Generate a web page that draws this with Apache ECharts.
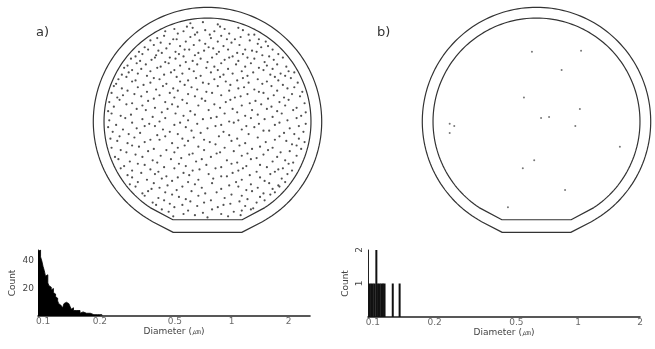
<!DOCTYPE html>
<html>
<head>
<meta charset="utf-8">
<script src="https://cdn.jsdelivr.net/npm/echarts@6/dist/echarts.min.js"></script>
<style>
  html, body { margin: 0; padding: 0; background: #fff; }
  #chart { width: 655px; height: 349px; }
</style>
</head>
<body>
<div id="chart"></div>
<script>
// particle positions on wafer a), x,y in mm from the wafer centre
const defectsA = [
  -15,86, -4,87, 9,85,
  -29,81, -18,83, -13,82, -2,80, 11,83, 15,81, 27,82,
  -37,79, -26,77, -21,79, -9,78, 2,76, 6,79, 19,77, 31,80, 36,76,
  -44,73, -38,75, -27,72, -15,74, -11,76, 3,73, 12,75, 17,72, 29,74, 41,76, 45,72,
  -50,71, -41,69, -33,68, -30,72, -19,70, -7,71, -2,68, 9,70, 21,69, 24,72, 37,71, 44,68, 51,70,
  -55,65, -47,67, -36,64, -24,66, -20,63, -12,67, 1,65, 5,64, 14,66, 28,67, 33,63, 47,65, 53,66,
  -60,61, -52,63, -43,62, -40,60, -28,61, -16,63, -8,60, -3,62, 10,61, 18,63, 26,60, 39,62, 43,61, 57,63,
  -63,57, -57,59, -45,58, -33,56, -25,59, -21,57, -11,58, 4,56, 8,59, 22,57, 31,59, 35,56, 48,58, 54,57, 62,59,
  -67,55, -59,53, -49,54, -46,56, -37,52, -28,55, -13,53, -6,55, 0,52, 15,54, 19,56, 27,53, 41,55, 50,52, 58,54, 66,56,
  -70,49, -62,51, -54,50, -41,48, -34,51, -24,49, -19,52, -9,50, 6,48, 12,51, 25,50, 33,48, 38,51, 52,49, 61,50, 69,48,
  -73,47, -66,45, -58,46, -50,44, -44,47, -29,45, -16,46, -12,44, -1,47, 9,45, 18,46, 30,44, 45,47, 49,45, 57,46, 71,44,
  -75,41, -69,43, -61,42, -53,40, -38,41, -32,43, -22,42, -6,40, 3,43, 14,41, 22,42, 35,40, 40,43, 55,41, 64,42, 68,40, 76,43,
  -78,37, -71,39, -63,36, -47,38, -42,37, -27,39, -17,36, -10,38, 6,37, 11,39, 26,36, 31,38, 44,37, 59,39, 62,36, 73,38,
  -80,33, -66,35, -56,32, -50,34, -36,33, -24,35, -20,32, -4,34, 1,33, 16,35, 20,32, 36,34, 48,33, 52,35, 66,32, 79,34,
  -82,31, -75,29, -61,30, -45,28, -39,31, -30,29, -14,30, -9,28, 9,31, 27,29, 32,30, 41,28, 56,31, 70,29, 76,30,
  -84,25, -70,27, -64,24, -53,26, -33,25, -26,27, -17,24, -1,26, 4,25, 19,27, 35,24, 45,26, 49,25, 61,27, 74,24, 83,26,
  -79,21, -74,23, -58,22, -47,20, -42,23, -29,21, -11,22, -5,20, 12,23, 24,21, 29,22, 53,20, 58,23, 67,21, 81,22,
  -86,17, -77,19, -66,16, -52,18, -37,17, -22,19, -18,16, -2,18, 16,17, 20,19, 37,16, 42,18, 63,17, 71,19, 85,16,
  -82,13, -71,15, -57,14, -46,12, -31,15, -26,13, -8,14, 6,15, 11,12, 30,14, 47,15, 56,13, 68,14, 78,12,
  -87,9, -62,11, -54,10, -40,8, -35,11, -15,9, 1,10, 22,11, 26,8, 39,10, 52,11, 61,9, 75,10, 86,8,
  -84,7, -76,5, -67,6, -48,4, -28,7, -21,5, -11,6, 8,4, 15,7, 33,5, 44,6, 57,4, 65,7, 82,5,
  -86,1, -72,3, -57,2, -42,0, -37,3, -17,1, -4,2, 3,3, 19,0, 27,1, 38,3, 50,2, 70,1, 78,3,
  -80,-3, -66,-1, -51,-2, -46,-4, -29,-3, -24,-1, -9,-2, 12,-3, 23,-1, 34,-4, 45,-2, 59,-3, 63,-1, 86,-2,
  -87,-5, -74,-7, -62,-6, -55,-4, -39,-7, -19,-5, -14,-8, 0,-6, 7,-4, 30,-7, 41,-5, 54,-8, 72,-6, 80,-4,
  -83,-9, -69,-11, -59,-10, -44,-12, -33,-9, -26,-11, -6,-10, 14,-9, 19,-12, 36,-11, 49,-8, 67,-10, 76,-11, 84,-9,
  -85,-15, -77,-13, -64,-14, -50,-16, -37,-13, -22,-15, -12,-14, -3,-16, 10,-13, 26,-15, 44,-14, 59,-16, 63,-13, 80,-15,
  -79,-17, -70,-19, -55,-18, -42,-16, -31,-19, -17,-17, 2,-18, 7,-20, 21,-17, 33,-19, 51,-18, 69,-17, 74,-20, 85,-18,
  -84,-23, -66,-21, -60,-22, -47,-24, -26,-23, -20,-21, -8,-22, 15,-23, 28,-21, 39,-24, 46,-22, 57,-23, 78,-21,
  -76,-25, -71,-27, -52,-26, -36,-25, -29,-27, -13,-28, -3,-25, 11,-27, 23,-26, 35,-28, 53,-25, 64,-27, 72,-26, 82,-24,
  -81,-31, -63,-29, -57,-31, -41,-30, -23,-32, -16,-29, 3,-31, 8,-28, 30,-30, 43,-32, 49,-29, 61,-31, 78,-30,
  -78,-33, -68,-35, -48,-34, -44,-36, -32,-33, -10,-35, -5,-33, 17,-34, 26,-36, 38,-33, 57,-35, 68,-34, 75,-36,
  -73,-39, -61,-37, -55,-38, -38,-40, -25,-37, -19,-39, -1,-38, 12,-40, 21,-37, 34,-39, 46,-38, 52,-40, 71,-37,
  -76,-41, -66,-43, -50,-42, -43,-44, -29,-41, -13,-43, -7,-42, 7,-41, 27,-43, 31,-41, 43,-44, 62,-42, 66,-41, 74,-43,
  -70,-47, -58,-45, -46,-46, -36,-48, -21,-45, -16,-47, 1,-46, 17,-48, 22,-45, 37,-47, 55,-46, 59,-44, 70,-46,
  -66,-49, -53,-51, -40,-50, -31,-52, -26,-49, -8,-51, 5,-50, 12,-48, 30,-51, 46,-49, 50,-52, 65,-50,
  -68,-55, -61,-53, -47,-54, -35,-56, -17,-53, -11,-55, 4,-54, 19,-56, 25,-53, 38,-55, 54,-54, 62,-56, 68,-53,
  -63,-57, -49,-59, -42,-58, -27,-60, -22,-57, -5,-58, 12,-59, 27,-57, 34,-60, 44,-58, 57,-59, 63,-57,
  -57,-63, -52,-61, -37,-62, -31,-64, -14,-61, -2,-63, 8,-62, 21,-64, 39,-61, 49,-63, 59,-62,
  -55,-65, -43,-67, -25,-66, -19,-68, -8,-65, 15,-67, 30,-65, 35,-68, 46,-66, 55,-64,
  -48,-71, -38,-69, -33,-72, -15,-70, -3,-71, 3,-69, 20,-72, 28,-70, 43,-71, 50,-69,
  -45,-73, -29,-75, -22,-73, -9,-74, 9,-75, 14,-73, 33,-74, 40,-76,
  -40,-77, -34,-79, -17,-78, -4,-80, 4,-77, 23,-79, 30,-78, 38,-77,
  -30,-83, -21,-81, -11,-82, 0,-84, 12,-81, 18,-83, 29,-82
];

// particle positions on wafer b)
const defectsB = [
  -4,61, 39,62, 22,45, -11,21, 38,11, 4,3, 11,4, 34,-4, -76,-2, -72,-4, -76,-10,
  73,-22, -2,-34, -12,-41, 25,-60, -25,-75
];

// size histogram a): left bin edge (um) and count
const binsA = [0.094, 0.0955, 0.097, 0.0985, 0.100, 0.1015, 0.103, 0.1045, 0.106, 0.1075, 0.109, 0.1105,
  0.112, 0.1135, 0.115, 0.1165, 0.118, 0.1195, 0.121, 0.1225, 0.124, 0.1255, 0.127, 0.129, 0.131, 0.133,
  0.135, 0.137, 0.139, 0.141, 0.143, 0.145, 0.148, 0.151, 0.154, 0.157, 0.160, 0.163, 0.166, 0.170,
  0.174, 0.178, 0.182, 0.186, 0.190, 0.195, 0.200, 0.205];
const countsA = [47, 48, 43, 40, 36, 33, 29, 30, 24, 22, 21, 19,
  20, 17, 16, 14, 13, 11, 9, 8, 7, 7, 6, 9, 10, 10,
  9, 8, 7, 5, 6, 4, 4, 3, 4, 2, 3, 2, 2, 1,
  2, 1, 1, 1, 1, 1, 1, 0];

// size histogram b)
const binsB = [0.096, 0.098, 0.100, 0.102, 0.104, 0.106, 0.108, 0.110, 0.112, 0.114, 0.125, 0.135];
const countsB = [1, 1, 1, 1, 2, 1, 1, 1, 1, 1, 1, 1];

const diameterTicks = [0.1, 0.2, 0.5, 1, 2];
const countTicksA = [20, 40];
const countTicksB = [1, 2];

// wafer outline geometry (mm)
const WAFER = { r: 100, cutY: -87.7, flatY: -97.1, flatHalf: 30 };
const EDGE = { r: 90.6, cutY: -75.4, flatY: -86, flatHalf: 30.3 };

function pairs(flat) {
  const out = [];
  for (let i = 0; i < flat.length; i += 2) out.push([flat[i], flat[i + 1]]);
  return out;
}

function outline(g) {
  const xc = Math.sqrt(g.r * g.r - g.cutY * g.cutY);
  const a0 = Math.atan2(g.cutY, xc);
  const a1 = Math.PI - a0;
  const pts = [];
  const n = 160;
  for (let i = 0; i <= n; i++) {
    const a = a0 + (a1 - a0) * i / n;
    pts.push([g.r * Math.cos(a), g.r * Math.sin(a)]);
  }
  pts.push([-g.flatHalf, g.flatY], [g.flatHalf, g.flatY], pts[0]);
  return pts;
}

const chart = echarts.init(document.getElementById('chart'), null, { renderer: 'canvas' });
window.addEventListener('resize', () => chart.resize());

const axisTxt = { color: '#444', fontSize: 9, fontFamily: 'DejaVu Sans' };

const waferAxis = (i) => ({ gridIndex: i, type: 'value', min: -102, max: 102, show: false });

const histX = (i, min, max) => ({
  gridIndex: i, type: 'log', logBase: 10, min: min, max: max,
  name: 'Diameter (㎛)', nameLocation: 'middle', nameGap: 11,
  nameTextStyle: axisTxt,
  axisLine: { lineStyle: { color: '#222', width: 1.6 } },
  axisTick: { show: false }, axisLabel: { show: false }, splitLine: { show: false }
});

const histY = (i, max, interval, ticks, rotate, gap) => ({
  gridIndex: i, type: 'value', min: 0, max: max, interval: interval,
  name: 'Count', nameLocation: 'middle', nameGap: gap, nameRotate: 90,
  nameTextStyle: axisTxt,
  axisLine: { show: true, lineStyle: { color: '#222', width: 1 } },
  axisTick: { show: false }, splitLine: { show: false },
  axisLabel: Object.assign({ margin: 4, rotate: rotate,
    formatter: (v) => ticks.indexOf(v) >= 0 ? String(v) : '' }, axisTxt)
});

const outlineSeries = (i, g) => ({
  type: 'line', xAxisIndex: i, yAxisIndex: i, data: outline(g),
  showSymbol: false, silent: true, animation: false,
  lineStyle: { color: '#333', width: 1.2 }
});

const tickLabelSeries = (i) => ({
  type: 'scatter', xAxisIndex: i, yAxisIndex: i, silent: true, clip: false,
  data: diameterTicks.map((v) => [v, 0]), symbolSize: 1,
  itemStyle: { color: 'rgba(0,0,0,0)' },
  label: Object.assign({ show: true, position: 'bottom', distance: 1,
    formatter: (p) => String(p.value[0]) }, axisTxt)
});

const option = {
  backgroundColor: '#fff',
  animation: false,
  title: [
    { text: 'a)', left: 31, top: 21, textStyle: { fontSize: 13, fontWeight: 'normal', color: '#333', fontFamily: 'DejaVu Sans' } },
    { text: 'b)', left: 372, top: 21, textStyle: { fontSize: 13, fontWeight: 'normal', color: '#333', fontFamily: 'DejaVu Sans' } }
  ],
  grid: [
    { left: 91, top: 5, width: 233, height: 233 },
    { left: 420, top: 5, width: 233, height: 233 },
    { left: 38, top: 250, width: 272, height: 66 },
    { left: 368, top: 250, width: 272, height: 67 }
  ],
  xAxis: [waferAxis(0), waferAxis(1), histX(2, 0.094, 2.6), histX(3, 0.0947, 2)],
  yAxis: [waferAxis(0), waferAxis(1),
    histY(2, 48, 20, countTicksA, 0, 21),
    histY(3, 2, 1, countTicksB, 90, 18)],
  series: [
    outlineSeries(0, WAFER), outlineSeries(0, EDGE),
    outlineSeries(1, WAFER), outlineSeries(1, EDGE),
    {
      type: 'scatter', xAxisIndex: 0, yAxisIndex: 0, data: pairs(defectsA),
      symbolSize: 2.2, silent: true, itemStyle: { color: '#333', opacity: 0.85 }
    },
    {
      type: 'scatter', xAxisIndex: 1, yAxisIndex: 1, data: pairs(defectsB),
      symbolSize: 2, silent: true, itemStyle: { color: '#555', opacity: 0.8 }
    },
    {
      type: 'line', xAxisIndex: 2, yAxisIndex: 2, step: 'end', showSymbol: false,
      data: binsA.map((b, i) => [b, countsA[i]]),
      lineStyle: { color: '#000', width: 0.8 }, areaStyle: { color: '#000', opacity: 1 }
    },
    {
      type: 'bar', xAxisIndex: 3, yAxisIndex: 3, barWidth: 2,
      data: binsB.map((b, i) => [b, countsB[i]]),
      itemStyle: { color: '#111' }
    },
    tickLabelSeries(2), tickLabelSeries(3)
  ]
};

chart.setOption(option);
</script>
</body>
</html>
